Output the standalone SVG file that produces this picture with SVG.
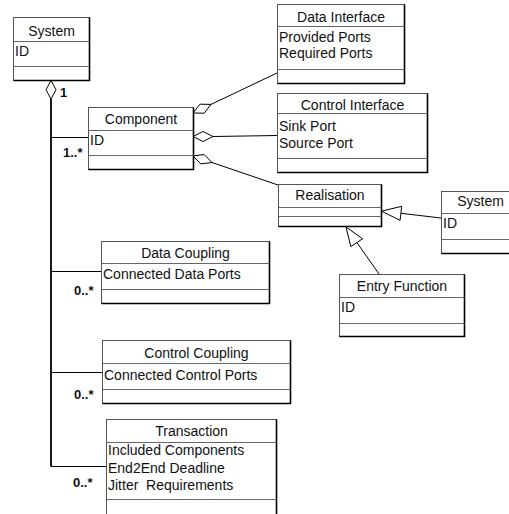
<svg xmlns="http://www.w3.org/2000/svg" width="509" height="514" viewBox="0 0 509 514">
  <style>
    .box { fill: #fff; stroke: #555; stroke-width: 1; }
    .edge { fill: none; stroke: #000; stroke-width: 1.6; }
    .div { stroke: #666; stroke-width: 1; }
    .t { font-family: "Liberation Sans", Arial, sans-serif; font-size: 14px; fill: #111; }
    .title { text-anchor: middle; }
    .mult { font-family: "Liberation Sans", Arial, sans-serif; font-size: 13px; font-weight: bold; fill: #111; }
    .conn { fill: none; stroke: #000; stroke-width: 1; }
    .trunk { fill: none; stroke: #000; stroke-width: 1.8; }
    .agg { fill: #fff; stroke: #000; stroke-width: 1; }
    .gen { fill: #fff; stroke: #000; stroke-width: 1; }
  </style>

  <!-- connectors -->
  <g id="connectors">
    <!-- System aggregation trunk with branches -->
    <line class="trunk" x1="51" y1="99" x2="51" y2="466.5"/>
    <line class="conn" x1="51" y1="137.5" x2="88" y2="137.5"/>
    <line class="conn" x1="51" y1="271.5" x2="101" y2="271.5"/>
    <line class="conn" x1="51" y1="372.5" x2="102" y2="372.5"/>
    <line class="conn" x1="51" y1="466.5" x2="106" y2="466.5"/>
    <polygon class="agg" points="51,80.5 56,89.75 51,99 46,89.75"/>
    <text class="mult" x="60" y="97">1</text>
    <text class="mult" x="63" y="157">1..*</text>
    <text class="mult" x="74" y="295">0..*</text>
    <text class="mult" x="74" y="399">0..*</text>
    <text class="mult" x="73" y="487">0..*</text>

    <!-- Component aggregations -->
    <line class="conn" x1="211" y1="104.4" x2="277" y2="73"/>
    <polygon class="agg" points="193,113 199.9,104.2 211,104.4 204.2,113.2"/>
    <line class="conn" x1="213" y1="136.5" x2="277" y2="135.5"/>
    <polygon class="agg" points="193,136.5 203,131.5 213,136.5 203,141.5"/>
    <line class="conn" x1="212" y1="162.5" x2="278" y2="185"/>
    <polygon class="agg" points="193,156 204.1,154.5 212,162.5 200.9,163.9"/>

    <!-- generalisations to Realisation -->
    <line class="conn" x1="441" y1="218" x2="401" y2="213.3"/>
    <polygon class="gen" points="381.5,211.2 401.7,206.3 400.1,220.3"/>
    <line class="conn" x1="379" y1="274" x2="356.5" y2="242"/>
    <polygon class="gen" points="346,227 362.6,238.8 350.8,246.6"/>
  </g>

  <!-- System (aggregate) -->
  <g id="system-main">
    <rect class="box" x="13.5" y="17.5" width="76" height="63"/>
    <polyline class="edge" points="89.5,17.5 89.5,80.5 13.5,80.5"/>
    <line class="div" x1="13.5" y1="41.5" x2="89.5" y2="41.5"/>
    <line class="div" x1="13.5" y1="66.5" x2="89.5" y2="66.5"/>
    <text class="t title" x="51.5" y="36">System</text>
    <text class="t" x="15" y="56">ID</text>
  </g>

  <!-- Component -->
  <g id="component">
    <rect class="box" x="88.5" y="107.5" width="105" height="62"/>
    <polyline class="edge" points="193.5,107.5 193.5,169.5 88.5,169.5"/>
    <line class="div" x1="88.5" y1="130.5" x2="193.5" y2="130.5"/>
    <line class="div" x1="88.5" y1="155.5" x2="193.5" y2="155.5"/>
    <text class="t title" x="141" y="124">Component</text>
    <text class="t" x="90" y="145">ID</text>
  </g>

  <!-- Data Interface -->
  <g id="data-interface">
    <rect class="box" x="277.5" y="4.5" width="127" height="79"/>
    <polyline class="edge" points="404.5,4.5 404.5,83.5 277.5,83.5"/>
    <line class="div" x1="277.5" y1="26.5" x2="404.5" y2="26.5"/>
    <line class="div" x1="277.5" y1="69.5" x2="404.5" y2="69.5"/>
    <text class="t title" x="341" y="22">Data Interface</text>
    <text class="t" x="279" y="42">Provided Ports</text>
    <text class="t" x="279" y="58">Required Ports</text>
  </g>

  <!-- Control Interface -->
  <g id="control-interface">
    <rect class="box" x="277.5" y="93.5" width="150" height="79"/>
    <polyline class="edge" points="427.5,93.5 427.5,172.5 277.5,172.5"/>
    <line class="div" x1="277.5" y1="113.5" x2="427.5" y2="113.5"/>
    <line class="div" x1="277.5" y1="158.5" x2="427.5" y2="158.5"/>
    <text class="t title" x="352.5" y="110">Control Interface</text>
    <text class="t" x="279" y="131">Sink Port</text>
    <text class="t" x="279" y="148">Source Port</text>
  </g>

  <!-- Realisation -->
  <g id="realisation">
    <rect class="box" x="278.5" y="184.5" width="103" height="42"/>
    <polyline class="edge" points="381.5,184.5 381.5,226.5 278.5,226.5"/>
    <line class="div" x1="278.5" y1="207.5" x2="381.5" y2="207.5"/>
    <line class="div" x1="278.5" y1="216.5" x2="381.5" y2="216.5"/>
    <text class="t title" x="330" y="200">Realisation</text>
  </g>

  <!-- System (realisation kind) -->
  <g id="system-realised">
    <rect class="box" x="441.5" y="191.5" width="78" height="62"/>
    <polyline class="edge" points="519.5,191.5 519.5,253.5 441.5,253.5"/>
    <line class="div" x1="441.5" y1="213.5" x2="519.5" y2="213.5"/>
    <line class="div" x1="441.5" y1="239.5" x2="519.5" y2="239.5"/>
    <text class="t title" x="480.5" y="206">System</text>
    <text class="t" x="443" y="228">ID</text>
  </g>

  <!-- Entry Function -->
  <g id="entry-function">
    <rect class="box" x="339.5" y="274.5" width="125" height="62"/>
    <polyline class="edge" points="464.5,274.5 464.5,336.5 339.5,336.5"/>
    <line class="div" x1="339.5" y1="297.5" x2="464.5" y2="297.5"/>
    <line class="div" x1="339.5" y1="323.5" x2="464.5" y2="323.5"/>
    <text class="t title" x="402" y="291">Entry Function</text>
    <text class="t" x="341" y="312">ID</text>
  </g>

  <!-- Data Coupling -->
  <g id="data-coupling">
    <rect class="box" x="101.5" y="241.5" width="168" height="62"/>
    <polyline class="edge" points="269.5,241.5 269.5,303.5 101.5,303.5"/>
    <line class="div" x1="101.5" y1="263.5" x2="269.5" y2="263.5"/>
    <line class="div" x1="101.5" y1="289.5" x2="269.5" y2="289.5"/>
    <text class="t title" x="185.5" y="258">Data Coupling</text>
    <text class="t" x="103" y="279">Connected Data Ports</text>
  </g>

  <!-- Control Coupling -->
  <g id="control-coupling">
    <rect class="box" x="102.5" y="340.5" width="188" height="63"/>
    <polyline class="edge" points="290.5,340.5 290.5,403.5 102.5,403.5"/>
    <line class="div" x1="102.5" y1="363.5" x2="290.5" y2="363.5"/>
    <line class="div" x1="102.5" y1="389.5" x2="290.5" y2="389.5"/>
    <text class="t title" x="196.5" y="358">Control Coupling</text>
    <text class="t" x="104" y="380">Connected Control Ports</text>
  </g>

  <!-- Transaction -->
  <g id="transaction">
    <rect class="box" x="106.5" y="419.5" width="170" height="102"/>
    <polyline class="edge" points="276.5,419.5 276.5,521.5 106.5,521.5"/>
    <line class="div" x1="106.5" y1="442.5" x2="276.5" y2="442.5"/>
    <line class="div" x1="106.5" y1="499.5" x2="276.5" y2="499.5"/>
    <text class="t title" x="191.5" y="436">Transaction</text>
    <text class="t" x="108" y="455">Included Components</text>
    <text class="t" x="108" y="473">End2End Deadline</text>
    <text class="t" x="108" y="490" xml:space="preserve">Jitter  Requirements</text>
  </g>
</svg>
